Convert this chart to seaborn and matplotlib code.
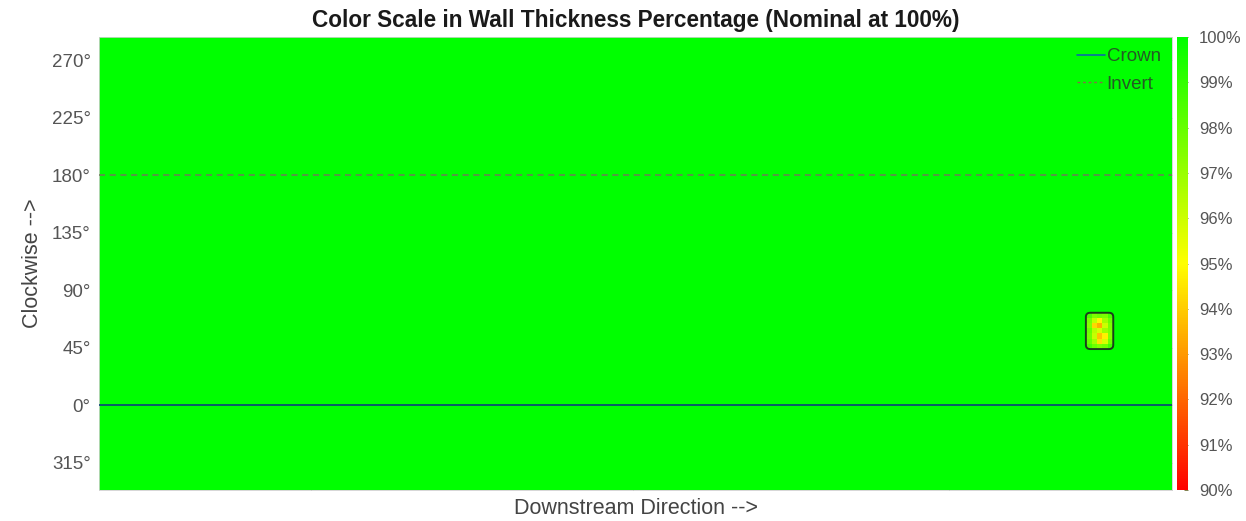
import numpy as np
import matplotlib
matplotlib.use("Agg")
import matplotlib.pyplot as plt
from matplotlib.colors import LinearSegmentedColormap
from matplotlib.patches import FancyBboxPatch
from matplotlib.lines import Line2D
import seaborn as sns

# Pipe wall-thickness scan: angular bins (4 deg each) from 288 deg downward,
# and 200 positions along the downstream direction.
angle_top = 288
angle_bottom = -66.5
angle_step = 4
n_angles = 89
n_positions = 200
nominal = 100.0

# Local wall-loss area (rows = angle bins from 72 deg down to 44 deg, cols = positions 184..188)
defect_row0 = 54
defect_col0 = 184
defect_values = [
    [98.5, 97.5, 97.8, 97.6, 98.6],
    [97.6, 96.2, 94.8, 96.8, 97.9],
    [97.4, 94.2, 93.4, 96.0, 97.6],
    [97.9, 96.4, 95.8, 96.9, 97.5],
    [97.7, 96.1, 93.8, 94.7, 97.4],
    [98.0, 96.8, 94.4, 95.8, 97.8],
    [98.6, 97.9, 97.5, 97.8, 98.7],
]

tick_angles = [270, 225, 180, 135, 90, 45, 0, -45]
tick_labels = ["270°", "225°", "180°", "135°", "90°", "45°", "0°", "315°"]
cbar_ticks = [90, 91, 92, 93, 94, 95, 96, 97, 98, 99, 100]
crown_angle = 0
invert_angle = 180

# Thickness grid
grid = np.full((n_angles, n_positions), nominal)
defect = np.array(defect_values)
grid[defect_row0:defect_row0 + defect.shape[0],
     defect_col0:defect_col0 + defect.shape[1]] = defect


def angle_to_row(a):
    return (angle_top - a) / angle_step


sns.set_theme(style="white")
plt.rcParams["font.family"] = ["Liberation Sans", "DejaVu Sans"]

fig = plt.figure(figsize=(12.46, 5.21), dpi=100)
W, H = 1246, 521
ax = fig.add_axes([99 / W, (H - 490) / H, (1172 - 99) / W, (490 - 37) / H])
cax = fig.add_axes([1177 / W, (H - 490) / H, 11 / W, (490 - 37) / H])

cmap = LinearSegmentedColormap.from_list(
    "thickness", [(0.0, (1, 0, 0)), (0.5, (1, 1, 0)), (1.0, (0, 1, 0))])

sns.heatmap(grid, cmap=cmap, vmin=90, vmax=100, ax=ax, cbar_ax=cax,
            xticklabels=False, yticklabels=False, rasterized=True)
ax.set_ylim(angle_to_row(angle_bottom), 0)

# Outline around the wall-loss area
box = FancyBboxPatch((defect_col0 - 0.05, defect_row0 - 0.05),
                     defect.shape[1] + 0.1, defect.shape[0] + 0.1,
                     boxstyle="round,pad=0,rounding_size=0.8",
                     fill=False, edgecolor="#1c3d1c", linewidth=1.4, zorder=5)
ax.add_patch(box)

# Reference lines
ax.axhline(angle_to_row(crown_angle), color="#0b3f7a", lw=1.2, zorder=4)
ax.axhline(angle_to_row(invert_angle), color="#6f7a5a", lw=1.1,
           ls=(0, (4, 3)), zorder=4)

# Axes ticks and labels
ax.set_yticks([angle_to_row(a) for a in tick_angles])
ax.set_yticklabels(tick_labels, rotation=0)
ax.set_xticks([39.5, 99.5, 158.5])
ax.set_xticklabels([])
ax.tick_params(axis="both", direction="in", length=4, width=0.6,
               color="#2a5a2a", left=True, right=True, top=True, bottom=True,
               labelsize=13.5, labelcolor="#555555", pad=6)
for s in ax.spines.values():
    s.set_visible(True)
    s.set_color("#d0d0d0")
    s.set_linewidth(0.6)

ax.set_title("Color Scale in Wall Thickness Percentage (Nominal at 100%)",
             fontsize=16.3, fontweight="bold", color="#1a1a1a", pad=7)
ax.set_xlabel("Downstream Direction -->", fontsize=15.5, color="#444444", labelpad=0)
ax.set_ylabel("Clockwise -->", fontsize=15.5, color="#444444", labelpad=6)

# Legend
handles = [Line2D([], [], color="#0b6aa8", lw=1.2),
           Line2D([], [], color="#8a6a48", lw=1.0, ls=(0, (2, 2)))]
leg = ax.legend(handles, ["Crown", "Invert"], loc="upper right", frameon=False,
                fontsize=13.5, handlelength=1.5, handletextpad=0.1,
                borderaxespad=0.2, labelspacing=0.55)
for t in leg.get_texts():
    t.set_color("#245a24")

# Colorbar
cbar = ax.collections[0].colorbar
cbar.set_ticks(cbar_ticks)
cbar.set_ticklabels([f"{v}%" for v in cbar_ticks])
cbar.outline.set_visible(False)
cax.tick_params(direction="in", length=3, width=0.6, color="#6a6a30",
                labelsize=12, labelcolor="#555555", pad=8)

fig.savefig("out.png", dpi=100)
